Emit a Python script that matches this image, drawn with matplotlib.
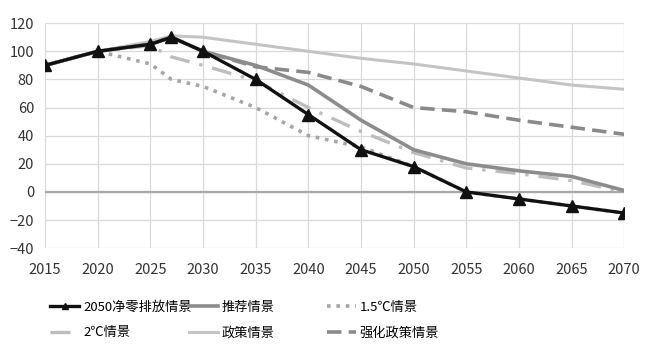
import matplotlib
matplotlib.use("Agg")
import matplotlib.pyplot as plt
from matplotlib.legend import Legend

plt.rcParams['font.family'] = ['Noto Sans CJK SC', 'DejaVu Sans']

years = [2015, 2020, 2025, 2027, 2030, 2035, 2040, 2045, 2050, 2055, 2060, 2065, 2070]
net_zero = [90, 100, 105, 110, 100, 80, 55, 30, 18, 0, -5, -10, -15]
recommended = [90, 100, 105, 110, 100, 90, 76, 51, 30, 20, 15, 11, 1]
c15 = [90, 100, 91, 80, 75, 60, 40, 32, 18, 0, -5, -10, -15]
c2 = [90, 100, 104, 96, 90, 79, 60, 43, 28, 17, 13, 8, 0]
policy = [90, 100, 107, 111, 110, 105, 100, 95, 91, 86, 81, 76, 73]
enhanced = [90, 100, 105, 110, 100, 89, 85, 75, 60, 57, 51, 46, 41]

labels = ['2050净零排放情景', '推荐情景', '1.5℃情景', '2℃情景', '政策情景', '强化政策情景']

fig = plt.figure(figsize=(6.64, 3.51), dpi=100)
ax = fig.add_axes([0.068, 0.293, 0.872, 0.641])

ax.axhline(0, color='#a8a8a8', lw=1.6, zorder=1)

l_pol, = ax.plot(years, policy, color='#c4c4c4', lw=2.2, zorder=2)
l_enh, = ax.plot(years, enhanced, color='#8a8a8a', lw=2.6, ls=(0, (4, 2)), zorder=3)
l_c2, = ax.plot(years, c2, color='#bdbdbd', lw=2.4, ls=(0, (6, 3, 1, 3)), zorder=3)
l_rec, = ax.plot(years, recommended, color='#8c8c8c', lw=2.6, zorder=4)
l_c15, = ax.plot(years, c15, color='#a6a6a6', lw=2.6, ls=(0, (1, 1.6)), zorder=5)
l_nz, = ax.plot(years, net_zero, color='#111111', lw=2.4, marker='^', markersize=8, zorder=6)

ax.set_xlim(2015, 2070)
ax.set_ylim(-40, 120)
ax.set_xticks(range(2015, 2071, 5))
ax.set_yticks(range(-40, 121, 20))
ax.grid(True, color='#d9d9d9', lw=0.9)
ax.set_axisbelow(True)
for s in ax.spines.values():
    s.set_visible(False)
ax.tick_params(axis='x', length=0, labelsize=10.5, colors='#333333', pad=11)
ax.tick_params(axis='y', length=0, labelsize=10.5, colors='#333333', pad=8)

# legend: three separate columns like the original
cols = [([l_nz, l_c2], [labels[0], labels[3]], 0.076),
        ([l_rec, l_pol], [labels[1], labels[4]], 0.284),
        ([l_c15, l_enh], [labels[2], labels[5]], 0.492)]
for hs, ns, x0 in cols:
    leg = Legend(fig, hs, ns, loc='upper left', bbox_to_anchor=(x0, 0.143),
                 bbox_transform=fig.transFigure, frameon=False, fontsize=9.5,
                 handlelength=2.2, handletextpad=0.3, labelspacing=0.95,
                 borderaxespad=0, borderpad=0, markerscale=0.6)
    fig.legends.append(leg)

fig.savefig('out.png', dpi=100, facecolor='white')
